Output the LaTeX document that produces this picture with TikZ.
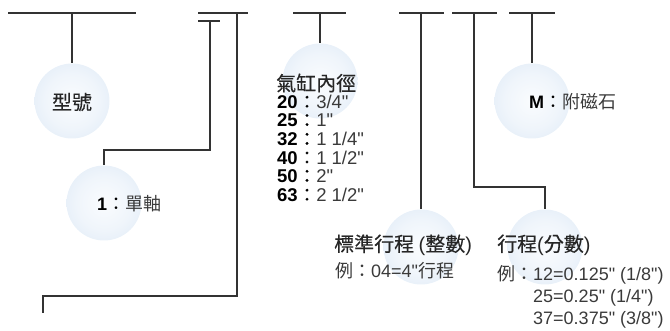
\documentclass[tikz,border=0pt]{standalone}
\usepackage{fontspec}
\setmainfont{Liberation Sans}[Ligatures=TeXOff]
\newfontfamily\cjk{Noto Sans CJK TC}
\newfontfamily\cjkhead{Noto Sans CJK TC}[FakeBold=0.3]
\usetikzlibrary{positioning}
\definecolor{ballblue}{HTML}{D0E0F2}
\definecolor{ballcore}{HTML}{FAFCFE}
\definecolor{wire}{HTML}{333333}
\definecolor{ink}{HTML}{3A3A3A}
\pgfdeclareradialshading{ballshade}{\pgfpoint{0bp}{0bp}}{color(0bp)=(ballcore); color(18bp)=(ballcore!75!ballblue); color(50bp)=(ballblue)}

\begin{document}
\begin{tikzpicture}[x=1pt, y=-1pt,
  bar/.style={draw=wire, line width=1.3pt},
  ball/.style={circle, minimum size=75pt, inner sep=0pt, shade, shading=ballshade},
  lbl/.style={inner sep=0pt, anchor=west, text=ink},
  head/.style={lbl, text=black!85, font=\cjkhead\fontsize{20}{24}\selectfont},
  note/.style={lbl, font=\fontsize{18}{23}\selectfont},
  bore/.style={lbl, font=\fontsize{18.5}{19}\selectfont}]
\useasboundingbox (0,0) rectangle (670,331);

% balls
\node[ball] (model)  at (72,101)  {};
\node[ball] (shaft)  at (104,203) {};
\node[ball] (bore)   at (320,81)  {};
\node[ball] (stroke) at (421,247) {};
\node[ball] (frac)   at (545,247) {};
\node[ball] (magnet) at (532,101) {};

% top bars
\draw[bar] (8,13) -- (136,13);
\draw[bar] (198,13) -- (248,13);
\draw[bar] (198,21) -- (220,21);
\draw[bar] (293,13) -- (346,13);
\draw[bar] (399,13) -- (444,13);
\draw[bar] (452,13) -- (497,13);
\draw[bar] (509,13) -- (555,13);

\coordinate (tModel)  at (72,13);
\coordinate (tShaft)  at (210,21);
\coordinate (kShaft)  at (210,150);
\coordinate (tPort)   at (237,13);
\coordinate (kPort)   at (237,296);
\coordinate (ePort)   at (43,313);
\coordinate (tBore)   at (320,13);
\coordinate (tStroke) at (421,13);
\coordinate (tFrac)   at (474,13);
\coordinate (kFrac)   at (474,187);
\coordinate (tMagnet) at (532,13);

% leaders
\draw[bar] (tModel) -- (model.north);
\draw[bar] (tShaft) -- (kShaft) -| (shaft.north);
\draw[bar] (tPort) -- (kPort) -| (ePort);
\draw[bar] (tBore) -- (bore.north);
\draw[bar] (tStroke) -- (stroke.north);
\draw[bar] (tFrac) -- (kFrac) -| (frac.north);
\draw[bar] (tMagnet) -- (magnet.north);

% labels
\node[head, anchor=center] (modelT) at (72,102) {型號};
\node[note] (shaftT) at (97,204) {{\bfseries\color{black}1}{\cjk\color{black}：}{\cjk 單軸}};
\node[note] (magnetT) at (529,102) {{\bfseries\color{black}M}{\cjk\color{black}：}{\cjk 附磁石}};

\node[head] (boreT) at (276,83) {氣缸內徑};
\foreach \d/\v [count=\i from 0] in {20/{3/4"}, 25/{1"}, 32/{1 1/4"}, 40/{1 1/2"}, 50/{2"}, 63/{2 1/2"}}
  \node[bore] (bore\d) at (277,102+18.6*\i) {{\bfseries\color{black}\d}{\cjkhead\color{black}：}\v};

\node[head] (strokeT) at (334,245) {標準行程 {\rmfamily(}整數{\rmfamily)}};
\node[note] (strokeEx) at (335,271) {{\cjk 例：}04=4"{\cjk 行程}};

\node[head] (fracT) at (497,245) {行程{\rmfamily(}分數{\rmfamily)}};
\node[note] (fracEx) at (497,275) {{\cjk 例：}12=0.125" (1/8")};
\node[note] (fracB) at (533,298) {25=0.25" (1/4")};
\node[note] (fracC) at (533,320) {37=0.375" (3/8")};
\end{tikzpicture}
\end{document}
